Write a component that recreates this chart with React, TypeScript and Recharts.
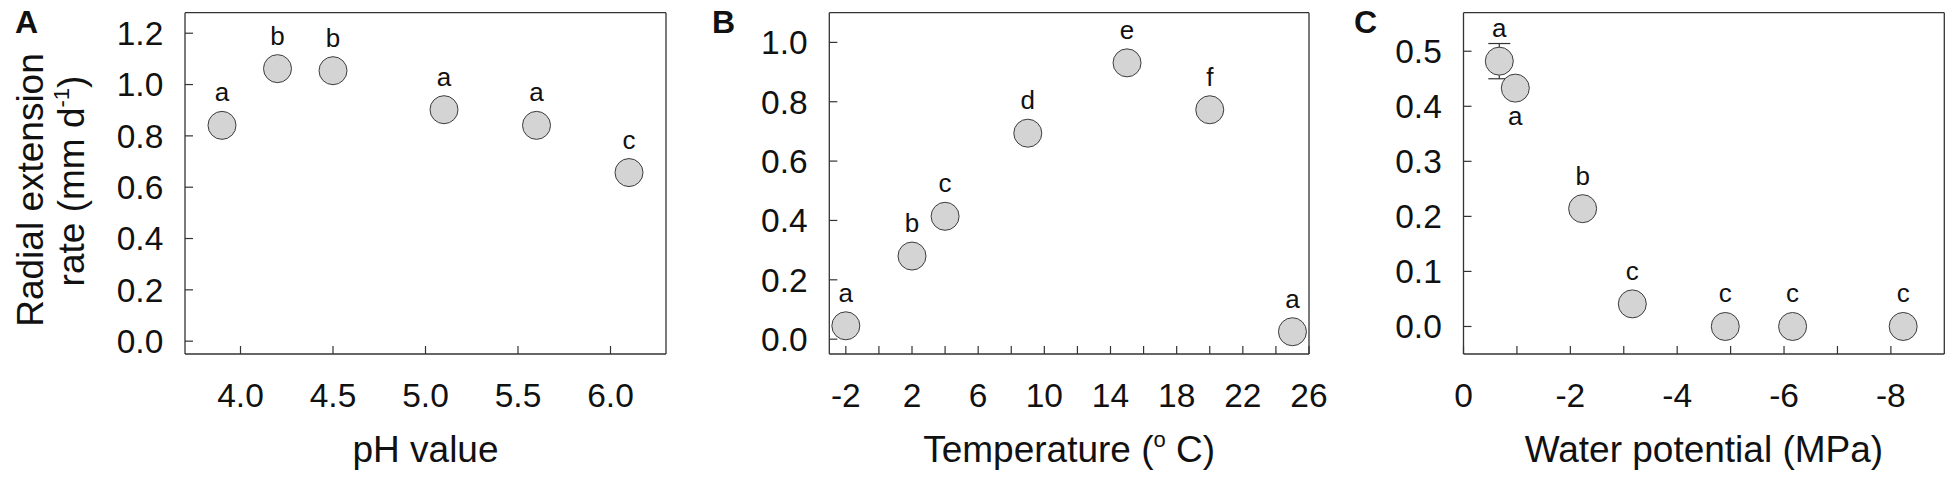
import React from "react";
import { ErrorBar, Label, ReferenceLine, Scatter, ScatterChart, XAxis, YAxis } from "recharts";

// ---- data ----
// A: pH
const PH = [3.9, 4.2, 4.5, 5.1, 5.6, 6.1];
const PH_RATE = [0.841, 1.062, 1.054, 0.902, 0.841, 0.657];
const PH_SIG = ["a", "b", "b", "a", "a", "c"];
const PH_TICKS = [4.0, 4.5, 5.0, 5.5, 6.0];

// B: temperature
const TEMP = [-2, 2, 4, 9, 15, 20, 25];
const TEMP_RATE = [0.045, 0.28, 0.414, 0.694, 0.931, 0.773, 0.025];
const TEMP_SIG = ["a", "b", "c", "d", "e", "f", "a"];
const TEMP_TICKS = [-2, 0, 2, 4, 6, 8, 10, 12, 14, 16, 18, 20, 22, 24, 26];

// C: water potential
const PSI = [-0.67, -0.97, -2.23, -3.16, -4.9, -6.16, -8.23];
const PSI_RATE = [0.482, 0.433, 0.214, 0.041, 0, 0, 0];
const PSI_ERR = [0.032, null, null, null, null, null, null];
const PSI_SIG = ["a", "a", "b", "c", "c", "c", "c"];
const PSI_SIG_BELOW = [false, true, false, false, false, false, false];
const PSI_TICKS = [0, -1, -2, -3, -4, -5, -6, -7, -8];

const Y_TICKS_A = [0, 0.2, 0.4, 0.6, 0.8, 1.0, 1.2];
const Y_TICKS_B = [0, 0.2, 0.4, 0.6, 0.8, 1.0];
const Y_TICKS_C = [0, 0.1, 0.2, 0.3, 0.4, 0.5];

const FONT = '"Liberation Sans", Arial, sans-serif';
const INK = "#111";
const LINE = "#333";
const TICK = { fontSize: 33.5, fill: INK, fontFamily: FONT } as const;
const AX_W = 60; // y-axis box width
const AX_H = 60; // x-axis box height

type Pt = { x: number; y: number; sig: string; err?: number | null; below?: boolean };

const zip = (xs: number[], ys: number[], sig: string[], err?: (number | null)[], below?: boolean[]): Pt[] =>
  xs.map((x, i) => ({ x, y: ys[i], sig: sig[i], err: err ? err[i] : null, below: below ? below[i] : false }));

// grey dot with its significance letter
const Dot = (p: any) => {
  const { cx, cy, payload } = p;
  if (cx == null || cy == null) return null;
  return (
    <g>
      <circle cx={cx} cy={cy} r={14} fill="#d4d4d4" stroke="#3c3c3c" strokeWidth={1} />
      <text
        x={cx}
        y={payload.below ? cy + 37 : cy - 24}
        textAnchor="middle"
        fontSize={26}
        fontFamily={FONT}
        fill={INK}
      >
        {payload.sig}
      </text>
    </g>
  );
};

function Panel({
  width,
  margin,
  data,
  xDomain,
  yDomain,
  xTicks,
  yTicks,
  xFmt,
  reversed = false,
  xTitle,
  yTitle,
}: {
  width: number;
  margin: { top: number; right: number; bottom: number; left: number };
  data: Pt[];
  xDomain: [number, number];
  yDomain: [number, number];
  xTicks: number[];
  yTicks: number[];
  xFmt: (v: number) => string;
  reversed?: boolean;
  xTitle: React.ReactNode;
  yTitle?: boolean;
}) {
  // margins are given up to the plot box; the axis boxes take part of them
  const m = { ...margin, left: margin.left - AX_W, bottom: margin.bottom - AX_H };
  return (
    <ScatterChart width={width} height={479} margin={m}>
      <XAxis
        xAxisId="x"
        type="number"
        dataKey="x"
        domain={xDomain}
        ticks={xTicks}
        interval={0}
        reversed={reversed}
        tickFormatter={xFmt}
        height={AX_H}
        axisLine={{ stroke: LINE, strokeWidth: 1.3 }}
        tickLine={{ stroke: LINE, strokeWidth: 1.2 }}
        tickSize={-8}
        tickMargin={37.5}
        tick={TICK}
      >
        <Label
          content={(p: any) => {
            const vb = p.viewBox;
            return (
              <text x={vb.x + vb.width / 2} y={vb.y + 108} textAnchor="middle" fontSize={37} fontFamily={FONT} fill={INK}>
                {xTitle}
              </text>
            );
          }}
        />
      </XAxis>
      <YAxis
        yAxisId="y"
        type="number"
        dataKey="y"
        domain={yDomain}
        ticks={yTicks}
        interval={0}
        tickFormatter={(v: number) => v.toFixed(1)}
        width={AX_W}
        axisLine={{ stroke: LINE, strokeWidth: 1.3 }}
        tickLine={{ stroke: LINE, strokeWidth: 1.2 }}
        tickSize={-8}
        tickMargin={29.7}
        tick={TICK}
      >
        {yTitle && (
          <Label
            content={(p: any) => {
              const vb = p.viewBox;
              const left = vb.x + vb.width;
              const l1x = left - 142;
              const l2x = left - 101;
              return (
                <g fontSize={37} fontFamily={FONT} fill={INK}>
                  <text x={l1x} y={190} textAnchor="middle" transform={`rotate(-90 ${l1x} 190)`}>
                    Radial extension
                  </text>
                  <text x={l2x} y={181} textAnchor="middle" transform={`rotate(-90 ${l2x} 181)`}>
                    rate (mm d
                    <tspan fontSize={22} dy={-15}>
                      -1
                    </tspan>
                    <tspan dy={15}>)</tspan>
                  </text>
                </g>
              );
            }}
          />
        )}
      </YAxis>
      <ReferenceLine xAxisId="x" yAxisId="y" y={yDomain[1]} stroke={LINE} strokeWidth={1.3} />
      <ReferenceLine xAxisId="x" yAxisId="y" x={reversed ? xDomain[0] : xDomain[1]} stroke={LINE} strokeWidth={1.3} />
      <Scatter xAxisId="x" yAxisId="y" data={data} shape={Dot} isAnimationActive={false}>
        <ErrorBar dataKey="err" direction="y" width={11} stroke={LINE} strokeWidth={1.2} isAnimationActive={false} />
      </Scatter>
    </ScatterChart>
  );
}

export default function App() {
  const phData = zip(PH, PH_RATE, PH_SIG);
  const tempData = zip(TEMP, TEMP_RATE, TEMP_SIG);
  const psiData = zip(PSI, PSI_RATE, PSI_SIG, PSI_ERR, PSI_SIG_BELOW);

  return (
    <div style={{ position: "absolute", left: 0, top: 0, width: 1956, height: 479, background: "#fff" }}>
      <div style={{ position: "absolute", left: 0, top: 0 }}>
        <Panel
          width={700}
          margin={{ top: 12.7, right: 34, bottom: 125, left: 185 }}
          data={phData}
          xDomain={[3.7, 6.3]}
          yDomain={[-0.05, 1.28]}
          xTicks={PH_TICKS}
          yTicks={Y_TICKS_A}
          xFmt={(v) => v.toFixed(1)}
          xTitle="pH value"
          yTitle
        />
      </div>
      <div style={{ position: "absolute", left: 700, top: 0 }}>
        <Panel
          width={640}
          margin={{ top: 12.7, right: 31, bottom: 125, left: 129.3 }}
          data={tempData}
          xDomain={[-3, 26]}
          yDomain={[-0.05, 1.1]}
          xTicks={TEMP_TICKS}
          yTicks={Y_TICKS_B}
          xFmt={(v) => ((v + 2) % 4 === 0 ? String(v) : "")}
          xTitle={
            <>
              Temperature (
              <tspan fontSize={22} dy={-15}>
                o
              </tspan>
              <tspan dy={15}> C)</tspan>
            </>
          }
        />
      </div>
      <div style={{ position: "absolute", left: 1340, top: 0 }}>
        <Panel
          width={616}
          margin={{ top: 12.7, right: 11.7, bottom: 125, left: 123.5 }}
          data={psiData}
          xDomain={[-9, 0]}
          yDomain={[-0.05, 0.57]}
          xTicks={PSI_TICKS}
          yTicks={Y_TICKS_C}
          xFmt={(v) => (v % 2 === 0 ? String(v === 0 ? 0 : v) : "")}
          reversed
          xTitle="Water potential (MPa)"
        />
      </div>
      <svg width={1956} height={479} style={{ position: "absolute", left: 0, top: 0, pointerEvents: "none" }}>
        <g fontSize={32} fontWeight="bold" fontFamily={FONT} fill={INK}>
          <text x={15} y={33}>A</text>
          <text x={712} y={33}>B</text>
          <text x={1354} y={33}>C</text>
        </g>
      </svg>
    </div>
  );
}
